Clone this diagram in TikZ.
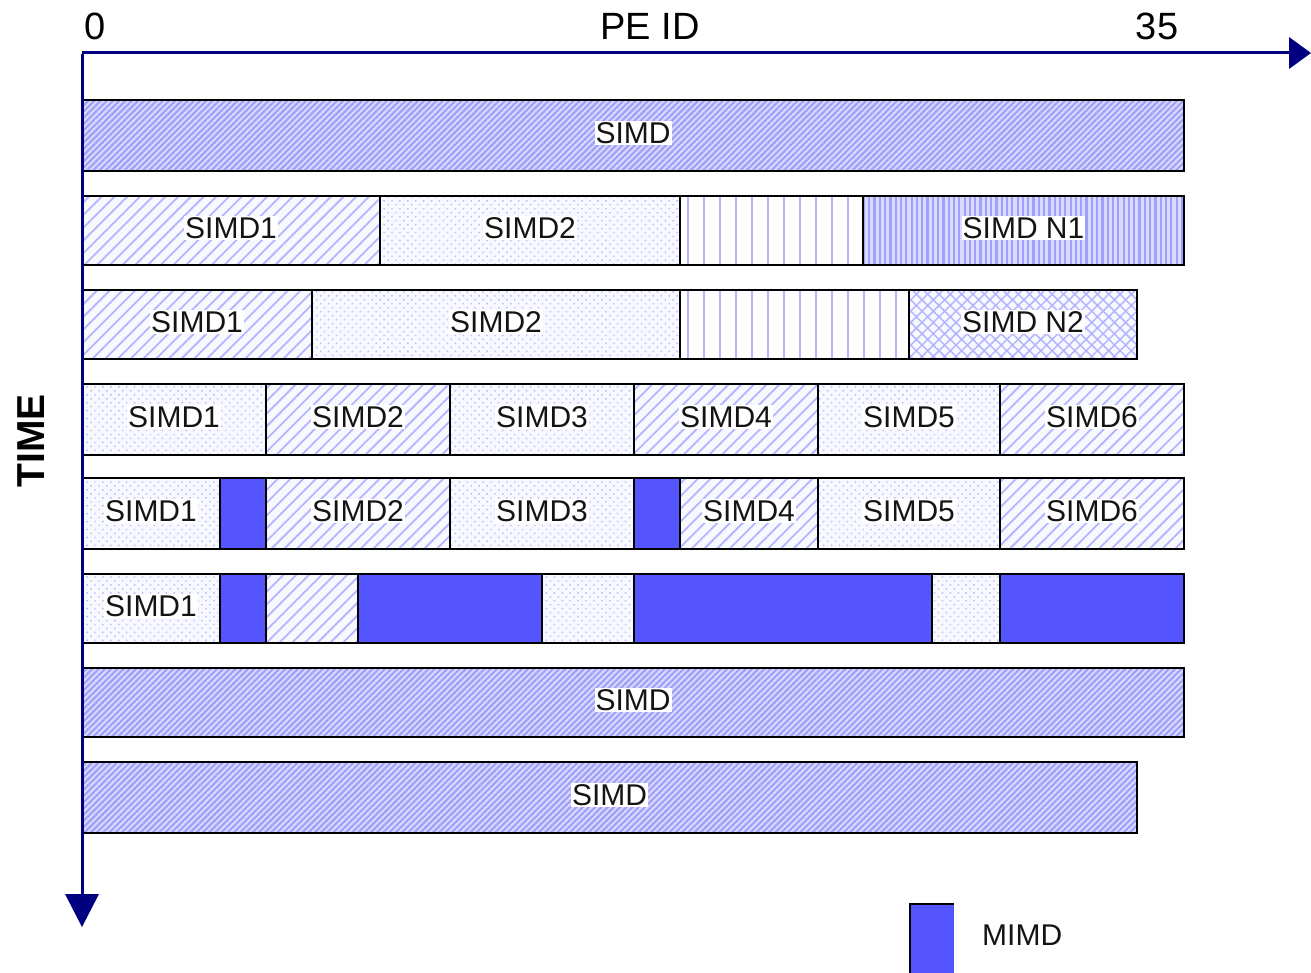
\documentclass[tikz,border=0pt]{standalone}
\usepackage{fontspec}
\setmainfont{Liberation Sans}
\usetikzlibrary{patterns.meta}
\definecolor{axisc}{RGB}{0,0,128}
\definecolor{mimdc}{RGB}{85,85,255}
\definecolor{bgdense}{RGB}{218,218,255}
\definecolor{lndense}{RGB}{160,160,250}
\definecolor{lnlight}{RGB}{180,180,255}
\definecolor{dotc}{RGB}{185,185,255}
\definecolor{bglight}{RGB}{248,248,255}
\definecolor{txtc}{RGB}{20,20,20}
\tikzset{
  dense/.style={preaction={fill=bgdense}, pattern={Lines[angle=45,distance=4.4pt,line width=2.2pt]}, pattern color=lndense},
  ldiag/.style={preaction={fill=bglight}, pattern={Lines[angle=45,distance=9pt,line width=1.8pt]}, pattern color=lnlight},
  dotted/.style={preaction={fill=bglight}, pattern={Dots[angle=45,distance=5.6pt,radius=1pt]}, pattern color=dotc},
  lvert/.style={preaction={fill=white}, pattern={Lines[angle=90,distance=16pt,line width=2.2pt]}, pattern color=lnlight},
  dvert/.style={preaction={fill=bgdense}, pattern={Lines[angle=90,distance=5.3pt,line width=2.2pt]}, pattern color=lndense},
  xhatch/.style={preaction={fill=bglight}, pattern={Hatch[angle=45,distance=8pt,line width=1.5pt]}, pattern color=lnlight},
  mimd/.style={fill=mimdc},
  border/.style={draw=black, line width=2.4pt},
  celltxt/.style={fill=white, inner sep=1pt, text=txtc, font=\fontsize{30}{34}\selectfont},
  axis/.style={draw=axisc, line width=3pt},
  axlabel/.style={text=black, font=\fontsize{38}{42}\selectfont, inner sep=0pt},
}
\newcommand\pcell[6]{%
  \path[#5] (#1,#3) rectangle (#2,#4);
  \draw[border] (#1,#3) rectangle (#2,#4);
  \ifx\relax#6\relax\else
  \node[celltxt] at ({(#1+#2)/2},{(#3+#4)/2-2.5}) {#6};\fi
}
\begin{document}
\begin{tikzpicture}[x=1pt,y=-1pt]
\useasboundingbox[fill=white] (0,0) rectangle (1311,973);
% row 1
\pcell{82}{1184}{100}{171}{dense}{SIMD}
% row 2
\pcell{82}{380}{196}{265}{ldiag}{SIMD1}
\pcell{380}{680}{196}{265}{dotted}{SIMD2}
\pcell{680}{863}{196}{265}{lvert}{}
\pcell{863}{1184}{196}{265}{dvert}{SIMD N1}
% row 3
\pcell{82}{312}{290}{359}{ldiag}{SIMD1}
\pcell{312}{680}{290}{359}{dotted}{SIMD2}
\pcell{680}{909}{290}{359}{lvert}{}
\pcell{909}{1137}{290}{359}{xhatch}{SIMD N2}
% row 4
\pcell{82}{266}{384}{455}{dotted}{SIMD1}
\pcell{266}{450}{384}{455}{ldiag}{SIMD2}
\pcell{450}{634}{384}{455}{dotted}{SIMD3}
\pcell{634}{818}{384}{455}{ldiag}{SIMD4}
\pcell{818}{1000}{384}{455}{dotted}{SIMD5}
\pcell{1000}{1184}{384}{455}{ldiag}{SIMD6}
% row 5
\pcell{82}{220}{478}{549}{dotted}{SIMD1}
\pcell{220}{266}{478}{549}{mimd}{}
\pcell{266}{450}{478}{549}{ldiag}{SIMD2}
\pcell{450}{634}{478}{549}{dotted}{SIMD3}
\pcell{634}{680}{478}{549}{mimd}{}
\pcell{680}{818}{478}{549}{ldiag}{SIMD4}
\pcell{818}{1000}{478}{549}{dotted}{SIMD5}
\pcell{1000}{1184}{478}{549}{ldiag}{SIMD6}
% row 6
\pcell{82}{220}{574}{643}{dotted}{SIMD1}
\pcell{220}{266}{574}{643}{mimd}{}
\pcell{266}{358}{574}{643}{ldiag}{}
\pcell{358}{542}{574}{643}{mimd}{}
\pcell{542}{634}{574}{643}{dotted}{}
\pcell{634}{932}{574}{643}{mimd}{}
\pcell{932}{1000}{574}{643}{dotted}{}
\pcell{1000}{1184}{574}{643}{mimd}{}
% row 7, 8
\pcell{82}{1184}{668}{737}{dense}{SIMD}
\pcell{82}{1137}{762}{833}{dense}{SIMD}
% legend
\path[mimd] (910,904) rectangle (954,975);
\draw[border] (954,975) -- (910,975) -- (910,904) -- (954,904);
\node[celltxt, fill=none, anchor=west] (mimdlabel) at (981,935) {MIMD};
% axes
\coordinate (origin) at (82,53);
\coordinate (xend) at (1292,53);
\coordinate (yend) at (82,896);
\draw[axis] (origin) -- (xend);
\draw[axis] (82,54.5) -- (yend);
\fill[axisc] (1289,37) -- (1311,53) -- (1289,69) -- cycle;
\fill[axisc] (65,894) -- (99,894) -- (82,927) -- cycle;
\node[axlabel] (zero) at (95,26) {0};
\node[axlabel] (peid) at (650,26) {PE ID};
\node[axlabel] (n35) at (1157,26) {35};
\node[axlabel, font=\fontsize{39}{42}\selectfont\bfseries, rotate=90] (time) at (31,441) {TIME};
\end{tikzpicture}
\end{document}
